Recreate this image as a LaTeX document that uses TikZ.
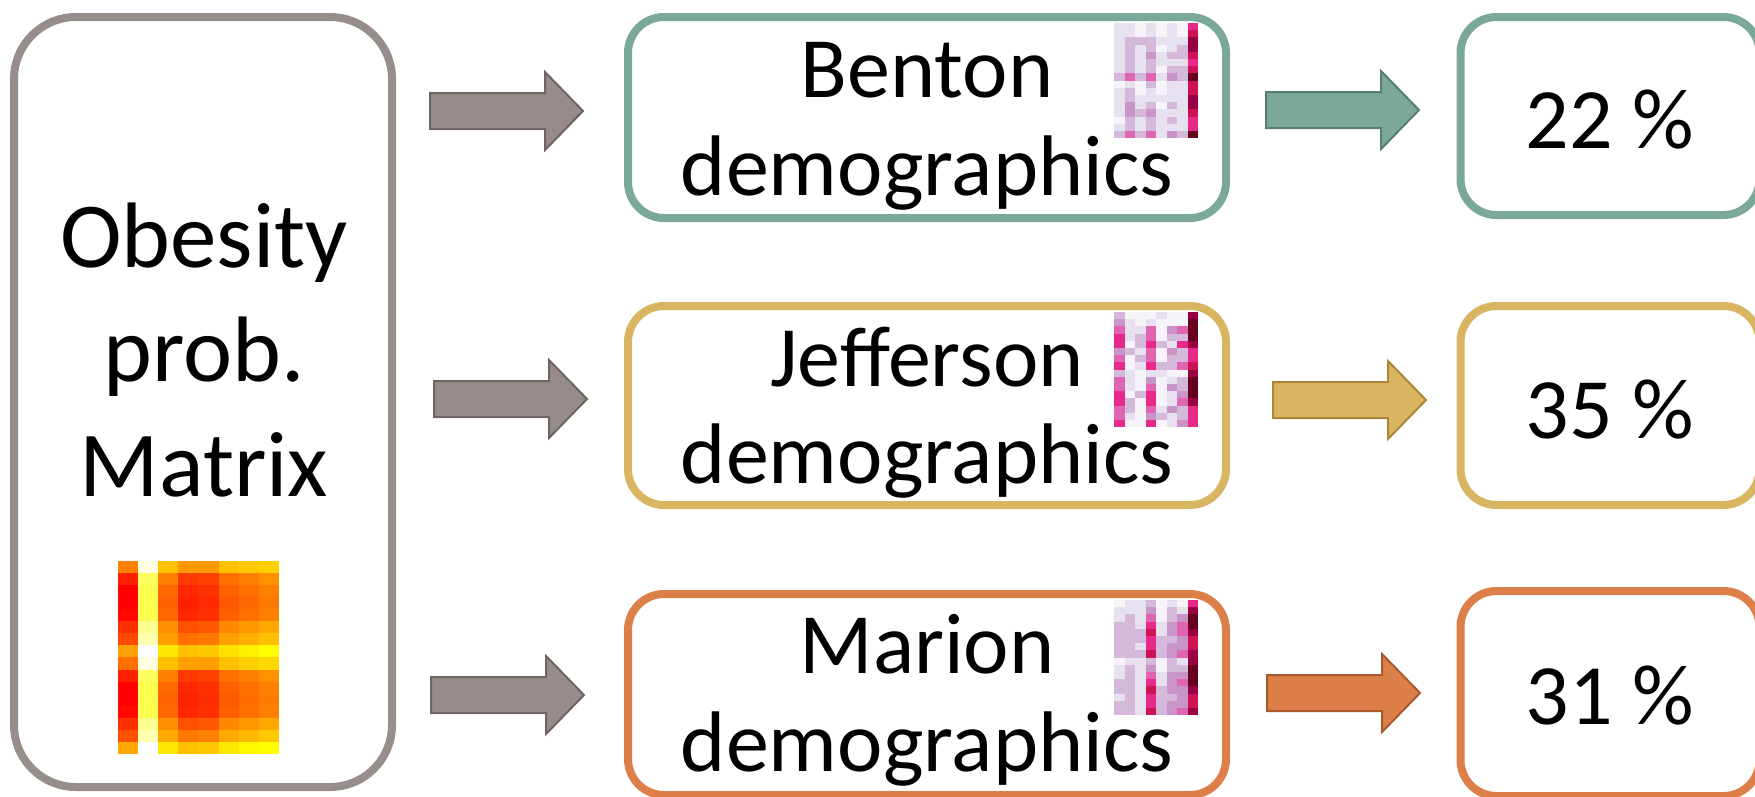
\documentclass[tikz,border=0pt]{standalone}
\usepackage{fontspec}
\setmainfont{Carlito}
\definecolor{grayline}{HTML}{978D8B}
\definecolor{grayfill}{HTML}{968C8A}
\definecolor{grayedge}{HTML}{6E6563}
\definecolor{tealline}{HTML}{7BA89B}
\definecolor{tealedge}{HTML}{587E72}
\definecolor{goldline}{HTML}{D9B562}
\definecolor{goldedge}{HTML}{A88838}
\definecolor{orangeline}{HTML}{DD7F48}
\definecolor{orangeedge}{HTML}{A65A2C}
\definecolor{pr0}{HTML}{F7F4F9}
\definecolor{pr1}{HTML}{E7E1EF}
\definecolor{pr2}{HTML}{D4B9DA}
\definecolor{pr3}{HTML}{C994C7}
\definecolor{pr4}{HTML}{DF65B0}
\definecolor{pr5}{HTML}{E7298A}
\definecolor{pr6}{HTML}{CE1256}
\definecolor{pr7}{HTML}{980043}
\definecolor{pr8}{HTML}{67001F}
\newcommand\purdgrid[3]{%
  \foreach \rowvals [count=\ii] in {#3} {
    \foreach \v [count=\jj] in \rowvals {
      \fill[pr\v] ({#1+(\jj-1)*10.5},{#2+(\ii-1)*7.2}) rectangle ++(10.7,7.4);
    }
  }%
}
\tikzset{
  box/.style={line width=8, rounded corners=36, inner sep=0, fill=white},
  bigtext/.style={font=\fontsize{93}{114}\selectfont, anchor=base, inner sep=0},
  midtext/.style={font=\fontsize{86}{97}\selectfont, anchor=base, inner sep=0},
  blockarrow/.pic={\path[pic actions] (0,-18) -- (115,-18) -- (115,-39) -- (153,0) -- (115,39) -- (115,18) -- (0,18) -- cycle;},
}
\begin{document}
\begin{tikzpicture}[x=1pt,y=-1pt]
\path[use as bounding box] (0,0) rectangle (1755,796);
\clip (0,0) rectangle (1755,796);
% left box
\node[box, draw=grayline, rounded corners=62, minimum width=378, minimum height=770] (obes) at (203,402) {};
\node[bigtext] (t1) at (204,267) {Obesity};
\node[bigtext] (t2) at (204,381) {prob.};
\node[bigtext] (t3) at (204,496) {Matrix};
% heatmap
\foreach \rowvals [count=\ii] in {
 {127/0,255/224,192/0,153/0,153/0,192/0,200/0,208/0},
 {32/0,255/96,128/0,58/0,64/0,112/0,128/0,144/0},
 {0/0,255/80,106/0,40/0,48/0,96/0,112/0,128/0},
 {0/0,255/80,96/0,32/0,40/0,88/0,104/0,120/0},
 {8/0,255/80,104/0,40/0,48/0,96/0,112/0,128/0},
 {48/0,255/144,144/0,80/0,88/0,136/0,152/0,168/0},
 {72/0,255/176,160/0,112/0,120/0,160/0,176/0,192/0},
 {160/0,255/255,232/0,192/0,200/0,224/0,240/0,255/0},
 {112/0,255/224,192/0,160/0,160/0,192/0,208/0,216/0},
 {32/0,255/96,128/0,56/0,64/0,112/0,128/0,144/0},
 {0/0,255/80,106/0,40/0,48/0,96/0,112/0,128/0},
 {0/0,255/80,100/0,36/0,44/0,92/0,108/0,124/0},
 {8/0,255/80,104/0,40/0,48/0,96/0,112/0,128/0},
 {48/0,255/144,144/0,80/0,88/0,136/0,152/0,168/0},
 {80/0,255/176,168/0,120/0,128/0,168/0,184/0,200/0},
 {168/0,255/255,232/0,192/0,200/0,232/0,248/0,255/0}} {
  \foreach \g/\b [count=\jj] in \rowvals {
    \definecolor{hc}{RGB}{255,\g,\b}
    \fill[hc] ({118+(\jj-1)*20.1},{561+(\ii-1)*12.06}) rectangle ++(20.3,12.2);
  }
}
% middle boxes
\node[box, draw=tealline, minimum width=598, minimum height=201] (benton) at (927,117.5) {};
\node[box, draw=goldline, minimum width=598, minimum height=199] (jeff) at (927,405.5) {};
\node[box, draw=orangeline, minimum width=598, minimum height=201] (marion) at (927,694.5) {};
% right boxes
\node[box, draw=tealline, minimum width=299, minimum height=198] (r1) at (1610,116) {};
\node[box, draw=goldline, minimum width=299, minimum height=199] (r2) at (1610,405.5) {};
\node[box, draw=orangeline, minimum width=299, minimum height=205] (r3) at (1610,693.5) {};
% small matrices
\purdgrid{1114}{23}{{1,1,0,1,0,1,0,5},{1,1,0,1,0,1,0,6},{1,2,2,2,1,1,1,7},{1,2,1,2,0,1,2,7},{1,2,1,3,1,2,2,6},{1,2,1,2,1,1,1,5},{1,2,1,2,0,2,2,6},{2,4,2,4,1,3,2,8},{0,1,0,2,0,1,1,6},{1,2,0,1,0,1,1,6},{1,2,1,1,1,1,1,7},{1,3,1,2,0,2,1,7},{1,3,2,3,1,1,1,6},{0,2,1,2,1,2,1,5},{1,2,1,2,1,1,1,5},{2,4,2,4,1,3,2,8}}
\purdgrid{1114}{312}{{2,0,0,0,1,0,0,7},{3,1,0,1,0,0,0,8},{4,1,1,4,0,3,4,8},{5,1,2,4,0,2,2,8},{5,0,2,5,2,1,5,7},{3,2,1,4,0,3,2,5},{4,0,2,4,0,2,2,5},{5,0,1,5,2,2,4,6},{2,1,0,1,1,0,0,7},{4,1,0,3,0,1,2,8},{4,1,0,4,0,3,2,8},{5,0,2,5,0,1,3,8},{5,2,0,5,0,1,4,7},{4,2,0,4,1,3,2,5},{4,1,0,3,2,1,2,5},{5,0,0,5,0,1,3,5}}
\purdgrid{1114}{600}{{0,1,1,2,0,1,0,5},{1,1,1,3,0,2,1,7},{1,2,1,4,0,2,3,8},{2,2,1,5,1,3,4,8},{2,2,2,6,1,3,4,7},{2,2,2,5,2,2,3,6},{2,2,1,5,2,3,3,6},{2,2,2,6,2,3,4,7},{0,1,1,2,0,2,1,7},{1,2,1,3,0,2,2,8},{1,2,1,4,1,3,3,8},{2,2,1,5,1,3,4,8},{2,2,1,6,2,3,3,7},{1,2,1,5,2,2,3,6},{2,2,1,5,2,3,3,6},{2,2,1,6,2,3,4,7}}
% texts
\node[midtext] (b1) at (927,97) {Benton};
\node[midtext] (b2) at (927,195) {demographics};
\node[midtext] (j1) at (927,386) {Jefferson};
\node[midtext] (j2) at (927,483) {demographics};
\node[midtext] (m1) at (927,673) {Marion};
\node[midtext] (m2) at (927,771) {demographics};
\node[midtext] (p1) at (1610,148) {22 \%};
\node[midtext] (p2) at (1610,438) {35 \%};
\node[midtext] (p3) at (1610,724) {31 \%};
% arrows
\pic[fill=grayfill, draw=grayedge, line width=2] at (430,111) {blockarrow};
\pic[fill=grayfill, draw=grayedge, line width=2] at (434,399) {blockarrow};
\pic[fill=grayfill, draw=grayedge, line width=2] at (431,695) {blockarrow};
\pic[fill=tealline, draw=tealedge, line width=2] at (1266,110) {blockarrow};
\pic[fill=goldline, draw=goldedge, line width=2] at (1273,400) {blockarrow};
\pic[fill=orangeline, draw=orangeedge, line width=2] at (1267,693) {blockarrow};
\end{tikzpicture}
\end{document}
